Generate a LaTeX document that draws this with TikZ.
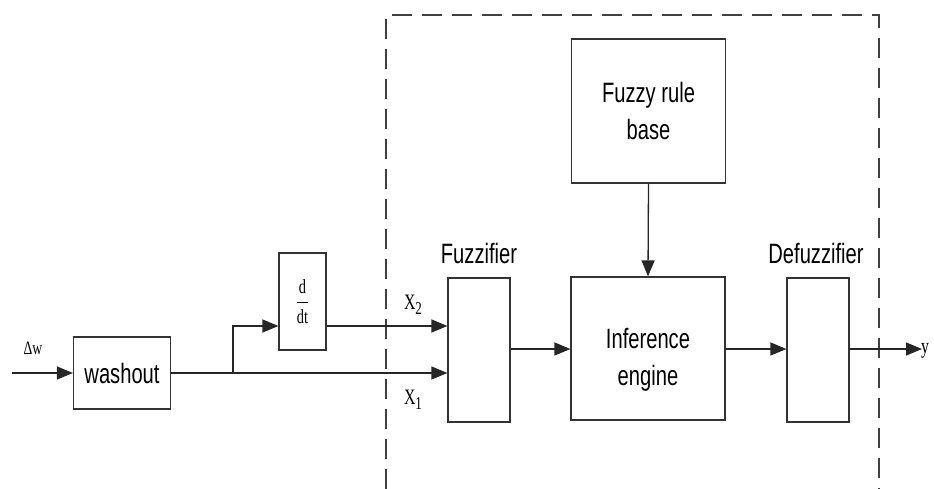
\documentclass[tikz,border=0pt]{standalone}
\usepackage{fontspec}
\newfontfamily\labfont{Liberation Sans}[FakeStretch=0.72]
\newfontfamily\serfont{Liberation Serif}[FakeStretch=0.72]
\usetikzlibrary{arrows.meta}
\begin{document}
\begin{tikzpicture}[x=1pt,y=-1pt,
  blk/.style={draw=black!80, line width=1.2pt, inner sep=0pt, align=center,
    font=\labfont\fontsize{28}{37}\selectfont},
  lab/.style={inner sep=0pt, font=\labfont\fontsize{28}{37}\selectfont},
  ser/.style={inner sep=0pt, font=\serfont\fontsize{22}{24}\selectfont},
  arr/.style={draw=black!85, line width=1.3pt, -{Triangle[length=16pt,width=13pt]}},
  bound/.style={draw=black!75, line width=1.5pt, dash pattern=on 20pt off 10pt}]
\useasboundingbox (0,0) rectangle (934,489);
% dashed boundary
\draw[bound] (386,489) -- (386,15) -- (879,15) -- (879,489);
% blocks
\node[blk, minimum width=97pt, minimum height=72pt] (wash) at (122,373) {washout};
\node[blk, minimum width=47pt, minimum height=97pt, font=\serfont\fontsize{20}{22}\selectfont] (ddt) at (302.5,301.5)
  {$\displaystyle\frac{\hbox{d\rule[-7pt]{0pt}{7pt}}}{\hbox{\rule{0pt}{20pt}dt}}$};
\node[blk, minimum width=62pt, minimum height=144pt] (fuzz) at (479,350) {};
\node[blk, minimum width=154pt, minimum height=143pt] (inf) at (648,348.5) {};
\node[lab, align=center] (inftxt) at (648,360) {Inference\\engine};
\node[blk, minimum width=154pt, minimum height=144pt] (rule) at (648.5,111) {Fuzzy rule\\base};
\node[blk, minimum width=62pt, minimum height=144pt] (defuz) at (818,350) {};
% labels
\node[lab] (fzl) at (479,253) {Fuzzifier};
\node[lab] (dfl) at (816,253) {Defuzzifier};
\node[ser] (x2) at (413,305) {X\raisebox{-5pt}{\fontsize{18}{20}\selectfont 2}};
\node[ser] (x1) at (413,400) {X\raisebox{-5pt}{\fontsize{18}{20}\selectfont 1}};
\node[ser, font=\serfont\fontsize{19}{21}\selectfont] (dw) at (33,348) {Δw};
\node[ser, anchor=west] (yl) at (921,351) {y};
% coordinates
\coordinate (in) at (12,373);
\coordinate (br) at (233,373);
\coordinate (y2) at (0,326);
\coordinate (y3) at (0,349);
\coordinate (out) at (922,349);
% connectors
\draw[arr] (in) -- (wash.west);
\draw[arr] (wash.east) -- (fuzz.west |- wash.east);
\draw[arr] (br) |- (ddt.west |- y2);
\draw[arr] (ddt.east |- y2) -- (fuzz.west |- y2);
\draw[arr] (fuzz.east |- y3) -- (inf.west |- y3);
\draw[arr] (inf.east |- y3) -- (defuz.west |- y3);
\draw[arr] (defuz.east |- y3) -- (out);
\draw[arr] (rule.south) -- (inf.north);
\end{tikzpicture}
\end{document}
